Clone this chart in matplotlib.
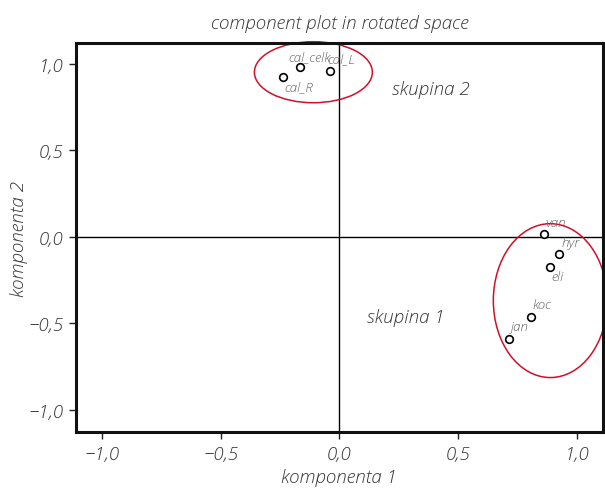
import matplotlib
matplotlib.use("Agg")
import matplotlib.pyplot as plt
from matplotlib.patches import Ellipse
from matplotlib.ticker import FixedLocator, FuncFormatter

# data
labels = ["cal_R", "cal_celk", "cal_L", "van", "hyr", "eli", "koc", "jan"]
comp1 = [-0.24, -0.168, -0.038, 0.863, 0.926, 0.888, 0.808, 0.712]
comp2 = [0.925, 0.983, 0.960, 0.017, -0.098, -0.173, -0.462, -0.590]
label_offsets = [(12, -7), (7, 7), (8, 8.5), (8, 8), (8, 8), (5, -7), (8, 9), (8, 8.5)]
ticks = [-1.0, -0.5, 0.0, 0.5, 1.0]
groups = ["skupina 2", "skupina 1"]
group_pos = [(0.383, 0.855), (0.278, -0.462)]
ellipses = [((-0.11, 0.951), 0.497, 0.353), ((0.888, -0.37), 0.48, 0.89)]

plt.rcParams['font.family'] = ['Open Sans', 'DejaVu Sans']
FONT = dict(style='italic', fontweight='light')
FS = 13.5
TC = '#333333'

fig = plt.figure(figsize=(6.05, 4.89), dpi=100)
ax = fig.add_axes([0.1256, 0.1145, 0.8711, 0.7955])
ax.set_xlim(-1.11, 1.11)
ax.set_ylim(-1.13, 1.12)

ax.axhline(0, color='black', lw=1.0, zorder=1)
ax.axvline(0, color='black', lw=1.0, zorder=1)

ax.plot(comp1, comp2, linestyle='none', marker='o', markersize=5.5,
        markerfacecolor='white', markeredgecolor='black', markeredgewidth=1.2, zorder=3)
for lab, x, y, off in zip(labels, comp1, comp2, label_offsets):
    ax.annotate(lab, (x, y), xytext=off, textcoords='offset points',
                ha='center', va='center', fontsize=9.5, color='#606060', **FONT)

for (c, w, h) in ellipses:
    e = Ellipse(c, w, h, fill=False, edgecolor='#d0102a', lw=1.1, clip_on=False, zorder=2)
    ax.add_patch(e)

for g, (x, y) in zip(groups, group_pos):
    ax.text(x, y, g, ha='center', va='center', fontsize=FS, color=TC, **FONT)

fmt = FuncFormatter(lambda v, p: f"{v:.1f}".replace('.', ',').replace('-', '\u2212'))
ax.xaxis.set_major_locator(FixedLocator(ticks))
ax.yaxis.set_major_locator(FixedLocator(ticks))
ax.xaxis.set_major_formatter(fmt)
ax.yaxis.set_major_formatter(fmt)
ax.tick_params(direction='out', length=5, width=1, color='#222222', labelsize=FS,
               labelcolor=TC, pad=4)
for lab in ax.get_xticklabels() + ax.get_yticklabels():
    lab.set_fontstyle('italic')
    lab.set_fontweight('light')
for s in ax.spines.values():
    s.set_linewidth(2.2)
    s.set_color('#111111')

ax.set_xlabel('komponenta 1', fontsize=FS, color=TC, labelpad=4, **FONT)
ax.set_ylabel('komponenta 2', fontsize=FS, color=TC, labelpad=0, **FONT)
ax.set_title('component plot in rotated space', fontsize=FS, color=TC, pad=11, **FONT)

fig.savefig('out.png', dpi=100)
